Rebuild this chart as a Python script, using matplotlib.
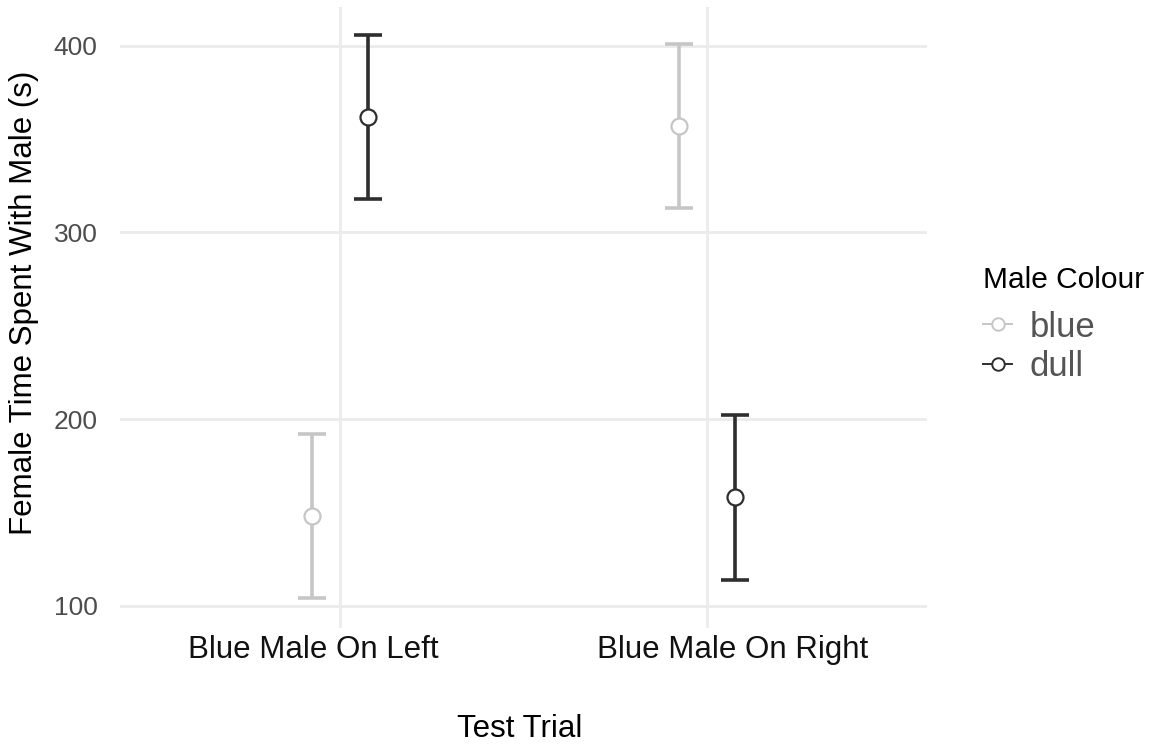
import numpy as np
import matplotlib.pyplot as plt
import matplotlib.transforms as mtransforms
from matplotlib.lines import Line2D

plt.rcParams['font.family'] = ['Liberation Sans', 'DejaVu Sans']

# mean and error half-width for each trial and male colour
trials = ["Blue Male On Left", "Blue Male On Right"]
colours = ["blue", "dull"]
means = {"blue": [148, 357], "dull": [362, 158]}
errs = {"blue": [44, 44], "dull": [44, 44]}
line_col = {"blue": "#c6c6c6", "dull": "#2e2e2e"}
offset = {"blue": -0.076, "dull": 0.076}

fig = plt.figure(figsize=(11.59, 7.45), dpi=100)
ax = fig.add_axes([0.1035, 0.157, 0.6965, 0.834])

x = np.arange(len(trials))
for c in colours:
    xs = x + offset[c]
    ax.errorbar(xs, means[c], yerr=errs[c], fmt='none', ecolor=line_col[c],
                elinewidth=2.6, capsize=10, capthick=2.6, zorder=3)
    ax.plot(xs, means[c], 'o', ms=11.5, mfc='white', mec=line_col[c], mew=1.6,
            zorder=4, label=c)

ax.set_xlim(-0.6, 1.6)
ax.set_ylim(88, 421)
ax.set_xticks(x)
ax.set_xticklabels([])
# category labels, nudged outward a little from their gridlines
base = mtransforms.blended_transform_factory(ax.transData, ax.transAxes)
for xi, name, dx in zip(x, trials, [-27, 26]):
    tr = base + mtransforms.ScaledTranslation(dx / 100, 0, fig.dpi_scale_trans)
    ax.text(xi, -0.036, name, transform=tr, fontsize=22.5, color='#111111',
            ha='center', va='center')
ax.set_yticks([100, 200, 300, 400])
ax.tick_params(axis='y', labelsize=19, labelcolor='#4d4d4d', length=0, pad=16)
ax.tick_params(axis='x', length=0)
ax.grid(True, color='#ebebeb', lw=2)
ax.set_axisbelow(True)
for s in ax.spines.values():
    s.set_visible(False)

ax.set_xlabel("Test Trial", fontsize=22.5, va='center')
ax.xaxis.set_label_coords(0.495, -0.163)
ax.set_ylabel("Female Time Spent With Male (s)", fontsize=22.5, va='center')
ax.yaxis.set_label_coords(-0.119, 0.523)

# legend: title as its own text, then open circle on a short line per colour
fig.text(0.848, 1 - 280 / 745, "Male Colour", fontsize=21.5, va='center', ha='left')
handles = [Line2D([0], [0], color=line_col[c], lw=1.4, marker='o', ms=9,
                  mfc='white', mec=line_col[c], mew=1.4) for c in colours]
leg = fig.legend(handles, colours, loc='center left',
                 bbox_to_anchor=(0.848, 1 - 347 / 745), frameon=False, fontsize=25,
                 handlelength=0.85, handletextpad=0.5, labelspacing=0.2,
                 borderpad=0, borderaxespad=0)
for t in leg.get_texts():
    t.set_color('#555555')

fig.savefig("out.png", dpi=100)
